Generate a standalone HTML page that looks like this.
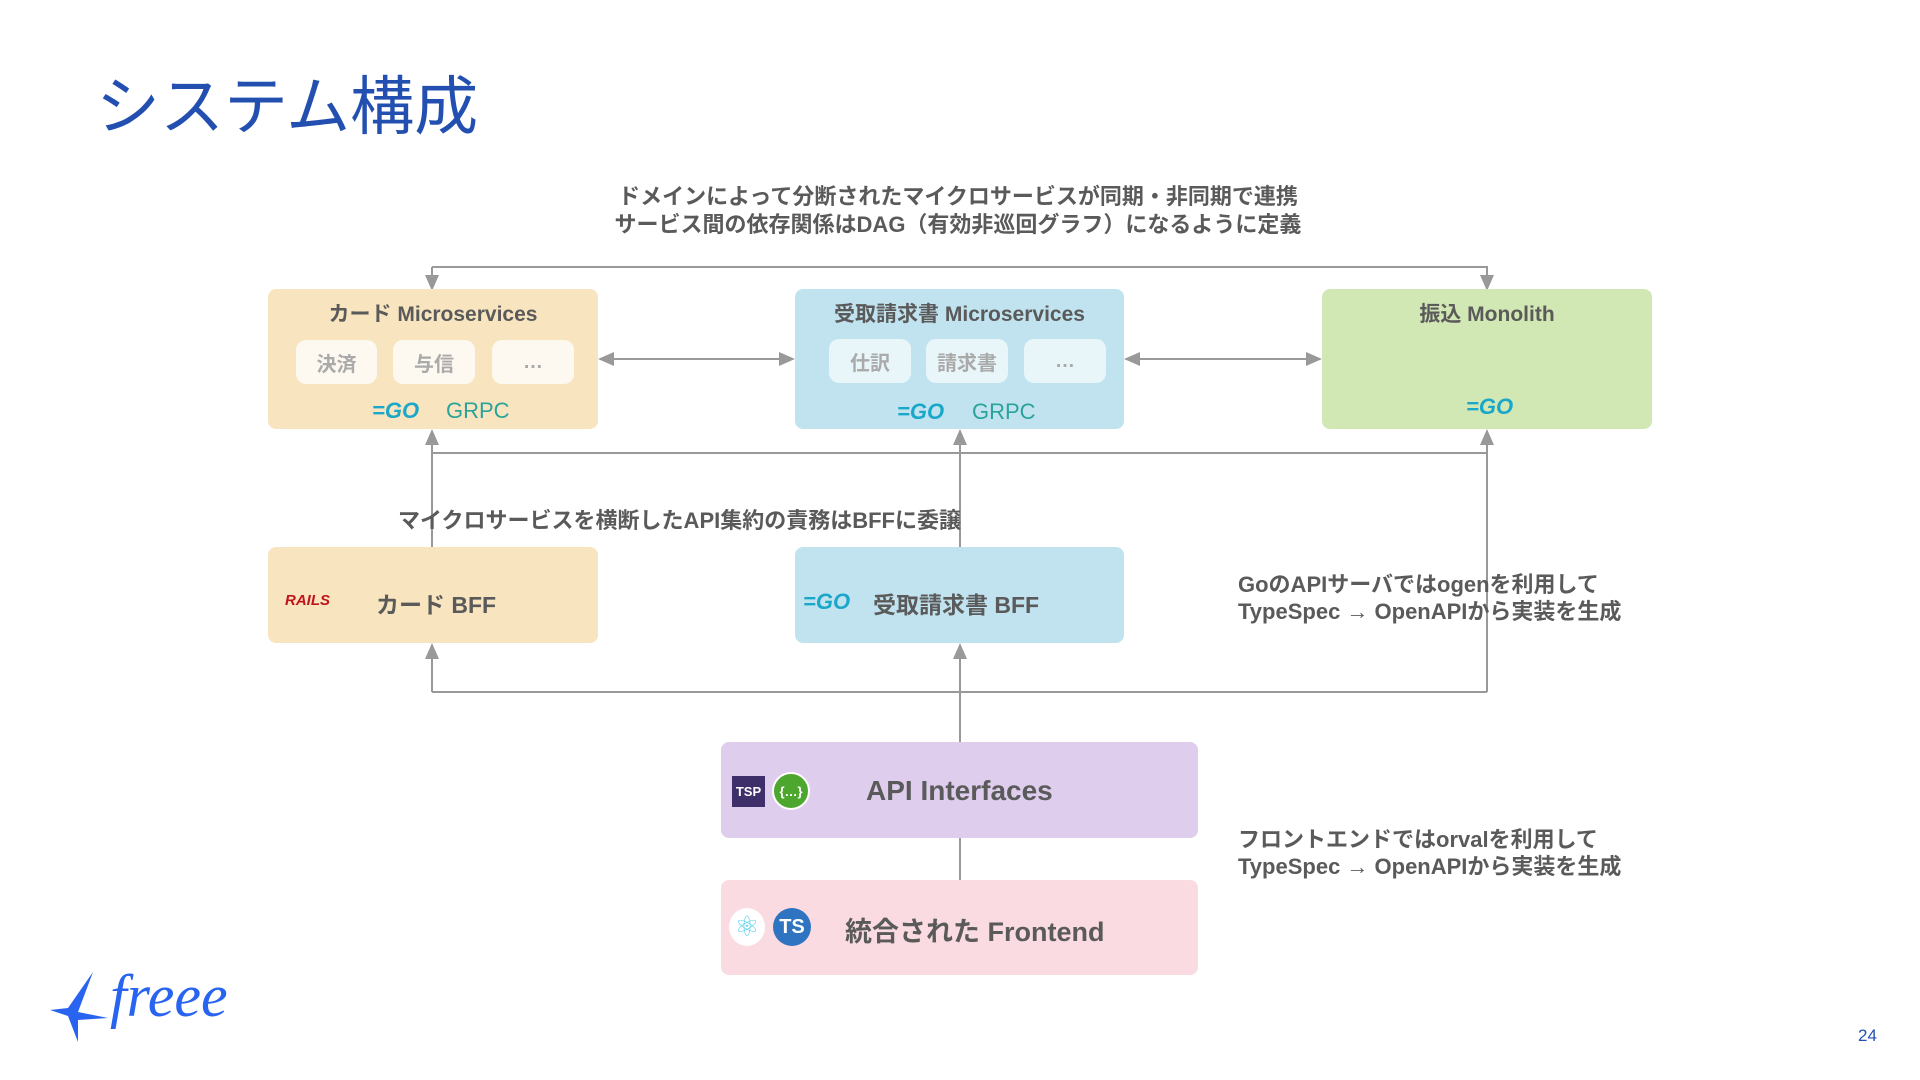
<!DOCTYPE html>
<html><head><meta charset="utf-8"><style>
body{margin:0;width:1920px;height:1080px;background:#fff;position:relative;overflow:hidden;font-family:"Liberation Sans","Noto Sans CJK JP",sans-serif;}
.a{position:absolute;}
.box{position:absolute;border-radius:8px;}
.t{position:absolute;font-weight:bold;color:#5a5a5a;white-space:nowrap;}
.pill{position:absolute;background:#fdf8f0;border-radius:10px;color:#aaa;font-weight:bold;font-size:20px;display:flex;align-items:center;justify-content:center;}
.go{position:absolute;font-weight:900;font-style:italic;color:#1aa7c9;font-size:22px;}
.grpc{position:absolute;color:#2ba39b;font-size:22px;font-family:"Liberation Sans Narrow","Liberation Sans",sans-serif;}
</style></head><body>
<div class="t" style="left:96px;top:56px;font-size:64px;color:#2350b0;font-weight:normal">システム構成</div>
<div class="t" style="left:0;width:1916px;text-align:center;top:183px;font-size:22px;line-height:28px">ドメインによって分断されたマイクロサービスが同期・非同期で連携<br>サービス間の依存関係はDAG（有効非巡回グラフ）になるように定義</div>

<svg class="a" style="left:0;top:0" width="1920" height="1080">
<defs><marker id="m" markerWidth="8" markerHeight="8" refX="7" refY="4" orient="auto"><path d="M0,0.5 L8,4 L0,7.5 Z" fill="#999"/></marker></defs>
<g stroke="#999" stroke-width="2" fill="none">
<path d="M432,267 H1487 V289" marker-end="url(#m)"/>
<path d="M432,267 V289" marker-end="url(#m)"/>
<path d="M700,359 H600" marker-end="url(#m)"/><path d="M700,359 H793" marker-end="url(#m)"/>
<path d="M1220,359 H1126" marker-end="url(#m)"/><path d="M1220,359 H1320" marker-end="url(#m)"/>
<path d="M432,453 H1487"/>
<path d="M432,547 V431" marker-end="url(#m)"/>
<path d="M960,547 V431" marker-end="url(#m)"/>
<path d="M1487,692 V431" marker-end="url(#m)"/>
<path d="M432,692 H1487"/>
<path d="M432,692 V645" marker-end="url(#m)"/>
<path d="M960,742 V645" marker-end="url(#m)"/>
<path d="M960,838 V880"/>
</g></svg>

<div class="box" style="left:268px;top:289px;width:330px;height:140px;background:#f8e5bf"></div>
<div class="t" style="left:268px;width:330px;text-align:center;top:298px;font-size:21px">カード Microservices</div>
<div class="pill" style="left:296px;top:340px;width:81px;height:44px">決済</div>
<div class="pill" style="left:393px;top:340px;width:82px;height:44px">与信</div>
<div class="pill" style="left:492px;top:340px;width:82px;height:44px">…</div>
<div class="go" style="left:372px;top:398px">=GO</div><div class="grpc" style="left:446px;top:398px">GRPC</div>

<div class="box" style="left:795px;top:289px;width:329px;height:140px;background:#c1e3ef"></div>
<div class="t" style="left:795px;width:329px;text-align:center;top:298px;font-size:21px">受取請求書 Microservices</div>
<div class="pill" style="left:829px;top:339px;width:82px;height:44px;background:#e8f5f9">仕訳</div>
<div class="pill" style="left:926px;top:339px;width:82px;height:44px;background:#e8f5f9">請求書</div>
<div class="pill" style="left:1024px;top:339px;width:82px;height:44px;background:#e8f5f9">…</div>
<div class="go" style="left:897px;top:399px">=GO</div><div class="grpc" style="left:972px;top:399px">GRPC</div>

<div class="box" style="left:1322px;top:289px;width:330px;height:140px;background:#d2e8b4"></div>
<div class="t" style="left:1322px;width:330px;text-align:center;top:298px;font-size:21px">振込 Monolith</div>
<div class="go" style="left:1466px;top:394px">=GO</div>

<div class="t" style="left:398px;top:503px;font-size:22px">マイクロサービスを横断したAPI集約の責務はBFFに委譲</div>

<div class="box" style="left:268px;top:547px;width:330px;height:96px;background:#f8e5bf"></div>
<div class="t" style="left:285px;top:592px;font-size:15px;color:#c0141c;font-style:italic;font-weight:900">RAILS</div>
<div class="t" style="left:376px;top:586px;font-size:23px">カード BFF</div>
<div class="box" style="left:795px;top:547px;width:329px;height:96px;background:#c1e3ef"></div>
<div class="go" style="left:803px;top:589px">=GO</div>
<div class="t" style="left:873px;top:586px;font-size:23px">受取請求書 BFF</div>

<div class="t" style="left:1238px;top:571px;font-size:22px;line-height:27px">GoのAPIサーバではogenを利用して<br>TypeSpec → OpenAPIから実装を生成</div>

<div class="box" style="left:721px;top:742px;width:477px;height:96px;background:#dfcdee"></div>
<div class="a" style="left:732px;top:776px;width:33px;height:31px;background:#3e2f6b;color:#fff;font-size:13px;font-weight:bold;display:flex;align-items:center;justify-content:center">TSP</div>
<div class="a" style="left:772px;top:772px;width:38px;height:38px;border-radius:50%;background:#4da72e;border:2px solid #fff;box-sizing:border-box;color:#fff;font-size:13px;font-weight:bold;display:flex;align-items:center;justify-content:center">{…}</div>
<div class="t" style="left:866px;top:775px;font-size:28px">API Interfaces</div>

<div class="box" style="left:721px;top:880px;width:477px;height:95px;background:#fadbe2"></div>
<div class="a" style="left:729px;top:908px;width:36px;height:38px;border-radius:50%;background:#fff;color:#5fd3f0;font-size:28px;text-align:center;line-height:38px">⚛</div>
<div class="a" style="left:773px;top:908px;width:38px;height:38px;border-radius:50%;background:#2f74c0;color:#fff;font-size:20px;font-weight:bold;display:flex;align-items:center;justify-content:center">TS</div>
<div class="t" style="left:845px;top:910px;font-size:27px">統合された Frontend</div>

<div class="t" style="left:1238px;top:826px;font-size:22px;line-height:27px">フロントエンドではorvalを利用して<br>TypeSpec → OpenAPIから実装を生成</div>

<svg class="a" style="left:48px;top:970px" width="70" height="75"><path d="M45,2 L20,38 L2,40 L20,46 L30,72 L30,50 L60,48 L30,42 Z" fill="#2864f0"/></svg>
<div class="a" style="left:110px;top:962px;font-size:60px;font-style:italic;color:#2864f0;font-family:'Liberation Serif',serif">freee</div>
<div class="a" style="left:1858px;top:1026px;font-size:17px;color:#2350b0">24</div>
</body></html>
